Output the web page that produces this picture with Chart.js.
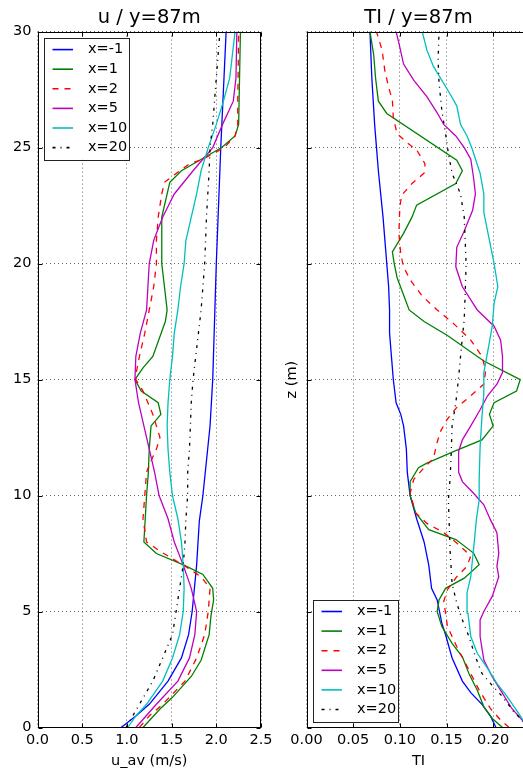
<!DOCTYPE html>
<html>
<head>
<meta charset="utf-8">
<script src="https://cdn.jsdelivr.net/npm/chart.js@4.4.1/dist/chart.umd.min.js"></script>
<style>
html, body { margin: 0; padding: 0; overflow: hidden; background: #fff; }
body { position: relative; width: 523px; height: 776px; }
canvas { position: absolute; top: 0; }
#uchart { left: 0; }
#tichart { left: 262px; }
</style>
</head>
<body>
<canvas id="uchart" width="290" height="776"></canvas>
<canvas id="tichart" width="272" height="776"></canvas>
<script>
var seriesLabels = ['x=-1', 'x=1', 'x=2', 'x=5', 'x=10', 'x=20'];

// u_av profiles (m/s) against z (m)
var zU_m1 = [0, 0.5, 1, 2, 3, 4, 5, 7, 8.9, 10, 13, 15, 20, 25, 30];
var u_m1  = [0.935, 1.10, 1.25, 1.46, 1.61, 1.69, 1.73, 1.78, 1.81, 1.85, 1.93, 1.96, 2.00, 2.05, 2.11];
var zU_1 = [0, 0.8, 1.3, 2.2, 2.9, 4.0, 4.8, 5.5, 6.0, 6.6, 7.0, 7.5, 8.0, 10, 11, 12, 13, 13.5, 14, 14.5, 15, 15.5, 16, 17.5, 18, 20, 22, 23.5, 24, 25, 25.5, 26, 30];
var u_1  = [1.18, 1.37, 1.51, 1.72, 1.83, 1.92, 1.94, 1.97, 1.96, 1.85, 1.64, 1.33, 1.19, 1.22, 1.24, 1.25, 1.27, 1.38, 1.35, 1.16, 1.09, 1.18, 1.29, 1.43, 1.45, 1.39, 1.39, 1.48, 1.61, 2.06, 2.21, 2.25, 2.27];
var zU_2 = [0, 0.5, 1, 2, 3, 4, 5, 5.5, 6, 6.5, 7, 7.6, 8, 9, 10, 11, 11.5, 12, 12.5, 13.5, 14.5, 15, 15.2, 16, 17, 18, 19, 20, 21, 22, 23, 23.5, 24, 24.3, 24.5, 25, 25.5, 26, 27, 30];
var u_2  = [1.14, 1.25, 1.40, 1.65, 1.78, 1.87, 1.91, 1.92, 1.93, 1.83, 1.63, 1.37, 1.22, 1.18, 1.20, 1.22, 1.27, 1.33, 1.37, 1.29, 1.18, 1.10, 1.10, 1.14, 1.20, 1.25, 1.30, 1.33, 1.33, 1.35, 1.39, 1.42, 1.59, 1.70, 1.85, 2.09, 2.21, 2.24, 2.24, 2.25];
var zU_5 = [0, 1, 2, 3, 4, 5, 6, 7, 8, 9, 10, 11, 12, 13, 14, 15, 16, 17, 18, 20, 21, 22, 23, 24, 25, 26, 27, 28, 30];
var u_5  = [1.10, 1.33, 1.57, 1.70, 1.76, 1.78, 1.72, 1.63, 1.53, 1.46, 1.36, 1.31, 1.25, 1.19, 1.13, 1.09, 1.10, 1.15, 1.22, 1.25, 1.30, 1.40, 1.53, 1.74, 1.96, 2.07, 2.19, 2.22, 2.23];
var zU_10 = [0, 0.5, 1, 2, 3, 4, 5, 6, 7, 8, 9, 10, 11, 12, 13, 14, 15, 16, 17, 18, 19, 20, 21, 22, 23, 24, 25, 26, 27, 28, 30];
var u_10  = [1.01, 1.10, 1.22, 1.40, 1.51, 1.59, 1.63, 1.64, 1.63, 1.61, 1.57, 1.51, 1.48, 1.46, 1.45, 1.46, 1.48, 1.51, 1.53, 1.57, 1.60, 1.64, 1.66, 1.72, 1.78, 1.83, 1.91, 2.00, 2.08, 2.15, 2.21];
var zU_20 = [0, 1, 2, 3, 4, 5, 6, 7, 8, 9, 10, 11, 12, 13, 14, 15, 16, 17, 18, 20, 22, 24, 25, 26, 28, 30];
var u_20  = [0.99, 1.14, 1.29, 1.40, 1.51, 1.55, 1.59, 1.63, 1.65, 1.66, 1.68, 1.68, 1.70, 1.71, 1.72, 1.74, 1.77, 1.80, 1.83, 1.87, 1.89, 1.92, 1.93, 1.96, 2.00, 2.04];

// TI profiles against z (m)
var zT_m1 = [0, 0.5, 1, 1.5, 2, 3, 4, 4.5, 5.5, 6, 7, 8, 9, 10, 11, 12, 13, 13.5, 14, 15, 16, 17, 18, 19, 20, 22, 24, 25, 26, 28, 30];
var ti_m1 = [0.203, 0.197, 0.188, 0.176, 0.167, 0.156, 0.149, 0.145, 0.140, 0.134, 0.131, 0.126, 0.118, 0.111, 0.108, 0.107, 0.104, 0.101, 0.096, 0.093, 0.091, 0.089, 0.089, 0.088, 0.086, 0.082, 0.077, 0.075, 0.073, 0.070, 0.068];
var zT_1 = [0, 0.39, 0.89, 1.61, 2.33, 3.05, 3.63, 4.35, 5, 5.5, 6, 6.44, 7.02, 7.52, 8.1, 8.53, 9.25, 10, 10.6, 11.2, 11.4, 11.9, 12.4, 13, 13.5, 14, 14.5, 15, 15.8, 16.9, 17.5, 18, 19.4, 20, 20.5, 21.3, 22, 22.52, 23.45, 24, 24.46, 26.47, 27, 28, 29, 30];
var ti_1 = [0.210, 0.199, 0.190, 0.183, 0.174, 0.167, 0.156, 0.145, 0.140, 0.142, 0.149, 0.169, 0.185, 0.179, 0.160, 0.131, 0.117, 0.111, 0.111, 0.120, 0.129, 0.158, 0.188, 0.200, 0.196, 0.201, 0.225, 0.229, 0.190, 0.151, 0.126, 0.110, 0.097, 0.094, 0.092, 0.104, 0.113, 0.118, 0.160, 0.167, 0.161, 0.086, 0.077, 0.074, 0.072, 0.068];
var zT_2 = [0, 0.32, 0.82, 1.61, 2.48, 3.49, 4.35, 4.93, 5.43, 5.94, 6.5, 6.95, 7.4, 7.95, 8.4, 8.8, 9.25, 10.1, 10.7, 11.2, 11.6, 12.3, 12.8, 13.3, 13.8, 14.3, 14.8, 15.4, 16, 16.7, 17.4, 18, 18.6, 19.3, 19.86, 20.4, 21.3, 22.45, 22.95, 23.45, 23.9, 24.3, 24.9, 25.2, 25.6, 26.3, 27.05, 27.6, 28.3, 29.2, 30];
var ti_2 = [0.217, 0.208, 0.197, 0.185, 0.174, 0.161, 0.151, 0.149, 0.147, 0.151, 0.161, 0.172, 0.176, 0.161, 0.147, 0.129, 0.117, 0.111, 0.115, 0.126, 0.136, 0.140, 0.144, 0.151, 0.161, 0.176, 0.190, 0.192, 0.188, 0.176, 0.158, 0.140, 0.124, 0.111, 0.104, 0.101, 0.099, 0.100, 0.102, 0.113, 0.126, 0.127, 0.118, 0.108, 0.097, 0.093, 0.092, 0.088, 0.084, 0.081, 0.075];
var zT_5 = [0, 0.32, 0.82, 1.47, 2.19, 2.91, 3.92, 4.64, 5, 5.65, 6.5, 6.95, 7.5, 8.4, 8.96, 9.6, 10.1, 10.6, 11, 11.9, 12.4, 13, 13.7, 14.3, 14.8, 15.3, 16, 16.7, 17.3, 18, 19, 19.86, 20.7, 21.4, 22.3, 23, 23.7, 24.5, 25, 25.5, 26, 26.5, 27.2, 27.9, 28.6, 29.5, 30];
var ti_5 = [0.238, 0.231, 0.220, 0.210, 0.199, 0.190, 0.186, 0.186, 0.190, 0.199, 0.206, 0.204, 0.206, 0.204, 0.197, 0.190, 0.179, 0.167, 0.163, 0.163, 0.167, 0.176, 0.186, 0.194, 0.204, 0.210, 0.210, 0.208, 0.201, 0.183, 0.167, 0.160, 0.161, 0.169, 0.178, 0.181, 0.179, 0.176, 0.169, 0.160, 0.147, 0.140, 0.129, 0.115, 0.104, 0.099, 0.096];
var zT_10 = [0, 0.32, 0.68, 1.33, 1.9, 2.55, 3.2, 3.92, 4.93, 5.8, 6.5, 8.1, 8.96, 9.8, 10.7, 12.1, 13.4, 14.4, 15.3, 16.4, 17.3, 18.3, 19, 20, 21.2, 22.2, 23, 23.9, 25, 25.5, 26, 26.8, 27.3, 27.9, 28.5, 29.2, 30];
var ti_10 = [0.238, 0.232, 0.226, 0.215, 0.204, 0.194, 0.183, 0.176, 0.173, 0.172, 0.176, 0.180, 0.182, 0.185, 0.185, 0.186, 0.188, 0.190, 0.190, 0.195, 0.199, 0.201, 0.205, 0.201, 0.195, 0.190, 0.190, 0.186, 0.177, 0.172, 0.165, 0.161, 0.154, 0.145, 0.136, 0.129, 0.124];
var zT_20 = [0, 0.32, 0.68, 1.33, 1.9, 2.33, 3.05, 3.92, 4.64, 5.36, 6.2, 7.5, 8.67, 9.8, 10.8, 11.8, 13, 14, 15.1, 16.4, 17.6, 18.7, 20, 21, 22, 23, 23.9, 24.75, 25.6, 26.6, 27.8, 28.8, 30];
var ti_20 = [0.238, 0.231, 0.222, 0.210, 0.197, 0.188, 0.181, 0.174, 0.167, 0.161, 0.156, 0.154, 0.153, 0.152, 0.154, 0.155, 0.156, 0.160, 0.163, 0.166, 0.169, 0.170, 0.171, 0.170, 0.169, 0.165, 0.156, 0.152, 0.149, 0.145, 0.142, 0.141, 0.142];

var uProfiles = [[zU_m1, u_m1], [zU_1, u_1], [zU_2, u_2], [zU_5, u_5], [zU_10, u_10], [zU_20, u_20]];
var tiProfiles = [[zT_m1, ti_m1], [zT_1, ti_1], [zT_2, ti_2], [zT_5, ti_5], [zT_10, ti_10], [zT_20, ti_20]];

var lineColors = ['#0000ff', '#008000', '#ff0000', '#bf00bf', '#00bfbf', '#000000'];
var lineDashes = [[], [], [6, 6], [], [], [3, 5, 1, 5]];

Chart.defaults.font.family = 'DejaVu Sans';
Chart.defaults.font.size = 14.5;
Chart.defaults.color = '#000';

function makeDatasets(profiles)
{
    var sets = [];
    for (var i = 0; i < profiles.length; i++) {
        var z = profiles[i][0], v = profiles[i][1];
        var pts = [];
        for (var k = 0; k < z.length; k++) {
            pts.push({x: v[k], y: z[k]});
        }
        sets.push({
            label: seriesLabels[i],
            data: pts,
            showLine: true,
            borderColor: lineColors[i],
            borderWidth: 1.3,
            borderDash: lineDashes[i],
            pointRadius: 0,
            fill: false,
            tension: 0,
            order: profiles.length - i
        });
    }
    return sets;
}

// frame round the axes, inward tick marks, and the boxed legend
var framePlugin = {
    id: 'frame',
    afterDraw: function(chart) {
        var a = chart.chartArea, ctx = chart.ctx;
        var l = Math.round(a.left) + 0.5, r = Math.round(a.right) - 0.5;
        var t = Math.round(a.top) + 0.5, b = Math.round(a.bottom) - 0.5;
        ctx.save();
        ctx.strokeStyle = '#000';
        ctx.lineWidth = 1;
        ctx.setLineDash([]);
        ctx.beginPath();
        var xs = chart.scales.x, ys = chart.scales.y;
        xs.ticks.forEach(function(tk) {
            var px = Math.round(xs.getPixelForValue(tk.value)) + 0.5;
            ctx.moveTo(px, b); ctx.lineTo(px, b - 4);
            ctx.moveTo(px, t); ctx.lineTo(px, t + 4);
        });
        ys.ticks.forEach(function(tk) {
            var py = Math.round(ys.getPixelForValue(tk.value)) + 0.5;
            ctx.moveTo(l, py); ctx.lineTo(l + 4, py);
            ctx.moveTo(r, py); ctx.lineTo(r - 4, py);
        });
        ctx.stroke();
        ctx.strokeRect(l, t, r - l, b - t);

        var opt = chart.options.plugins.boxLegend;
        var w = 85, h = 122;
        var bx = a.left + 6.5, by = opt.corner === 'tl' ? a.top + 6 : a.bottom - 6 - h;
        ctx.fillStyle = '#fff';
        ctx.fillRect(bx, by, w, h);
        ctx.strokeStyle = '#222';
        ctx.strokeRect(Math.round(bx) + 0.5, Math.round(by) + 0.5, w, h);
        ctx.font = '14.5px "DejaVu Sans"';
        ctx.textBaseline = 'middle';
        chart.data.datasets.forEach(function(ds, i) {
            var yy = by + 12 + i * 19.6;
            ctx.strokeStyle = ds.borderColor;
            ctx.lineWidth = 1.6;
            ctx.setLineDash(ds.borderDash);
            ctx.beginPath();
            ctx.moveTo(bx + 8.5, yy); ctx.lineTo(bx + 29, yy);
            ctx.stroke();
            ctx.fillStyle = '#000';
            ctx.fillText(ds.label, bx + 44, yy);
        });
        ctx.restore();
    }
};

var gridStyle = {color: 'rgba(0,0,0,0.6)', lineWidth: 1, drawTicks: false};
var borderStyle = {display: false, dash: [1, 3]};

function buildChart(id, profiles, opts)
{
    var ctx = document.getElementById(id).getContext('2d');
    return new Chart(ctx, {
        type: 'scatter',
        data: {datasets: makeDatasets(profiles)},
        plugins: [framePlugin],
        options: {
            responsive: false,
            animation: false,
            devicePixelRatio: 1,
            layout: {padding: {left: 0, right: opts.padRight, top: 0, bottom: 0}},
            plugins: {
                legend: {display: false},
                tooltip: {enabled: false},
                title: {display: true, text: opts.title, fullSize: false,
                        font: {size: 19.5, weight: 'normal'}, color: '#000',
                        padding: {top: 6.2, bottom: 2}},
                boxLegend: {corner: opts.corner}
            },
            scales: {
                x: {
                    type: 'linear', min: 0, max: opts.xMax,
                    grid: gridStyle, border: borderStyle,
                    ticks: {stepSize: opts.xStep, includeBounds: false, padding: 4,
                            callback: function(v) { return v.toFixed(opts.xDigits); }},
                    title: {display: true, text: opts.xTitle, padding: {top: 0, bottom: 5.6}},
                    afterFit: function(s) { s.height = 48.5; }
                },
                y: {
                    type: 'linear', min: 0, max: 30,
                    grid: gridStyle, border: borderStyle,
                    ticks: {stepSize: 5, padding: 6, display: opts.yLabels},
                    title: {display: opts.yTitle !== '', text: opts.yTitle, padding: {top: 22, bottom: 0}},
                    afterFit: function(s) { s.width = opts.yWidth; }
                }
            }
        }
    });
}

buildChart('uchart', uProfiles, {title: 'u / y=87m', xTitle: 'u_av (m/s)', xMax: 2.5, xStep: 0.5, xDigits: 1,
    yLabels: true, yTitle: '', yWidth: 37.5, padRight: 29, corner: 'tl'});
buildChart('tichart', tiProfiles, {title: 'TI / y=87m', xTitle: 'TI', xMax: 0.24, xStep: 0.05, xDigits: 2,
    yLabels: false, yTitle: 'z (m)', yWidth: 44.5, padRight: 3.5, corner: 'bl'});
</script>
</body>
</html>
